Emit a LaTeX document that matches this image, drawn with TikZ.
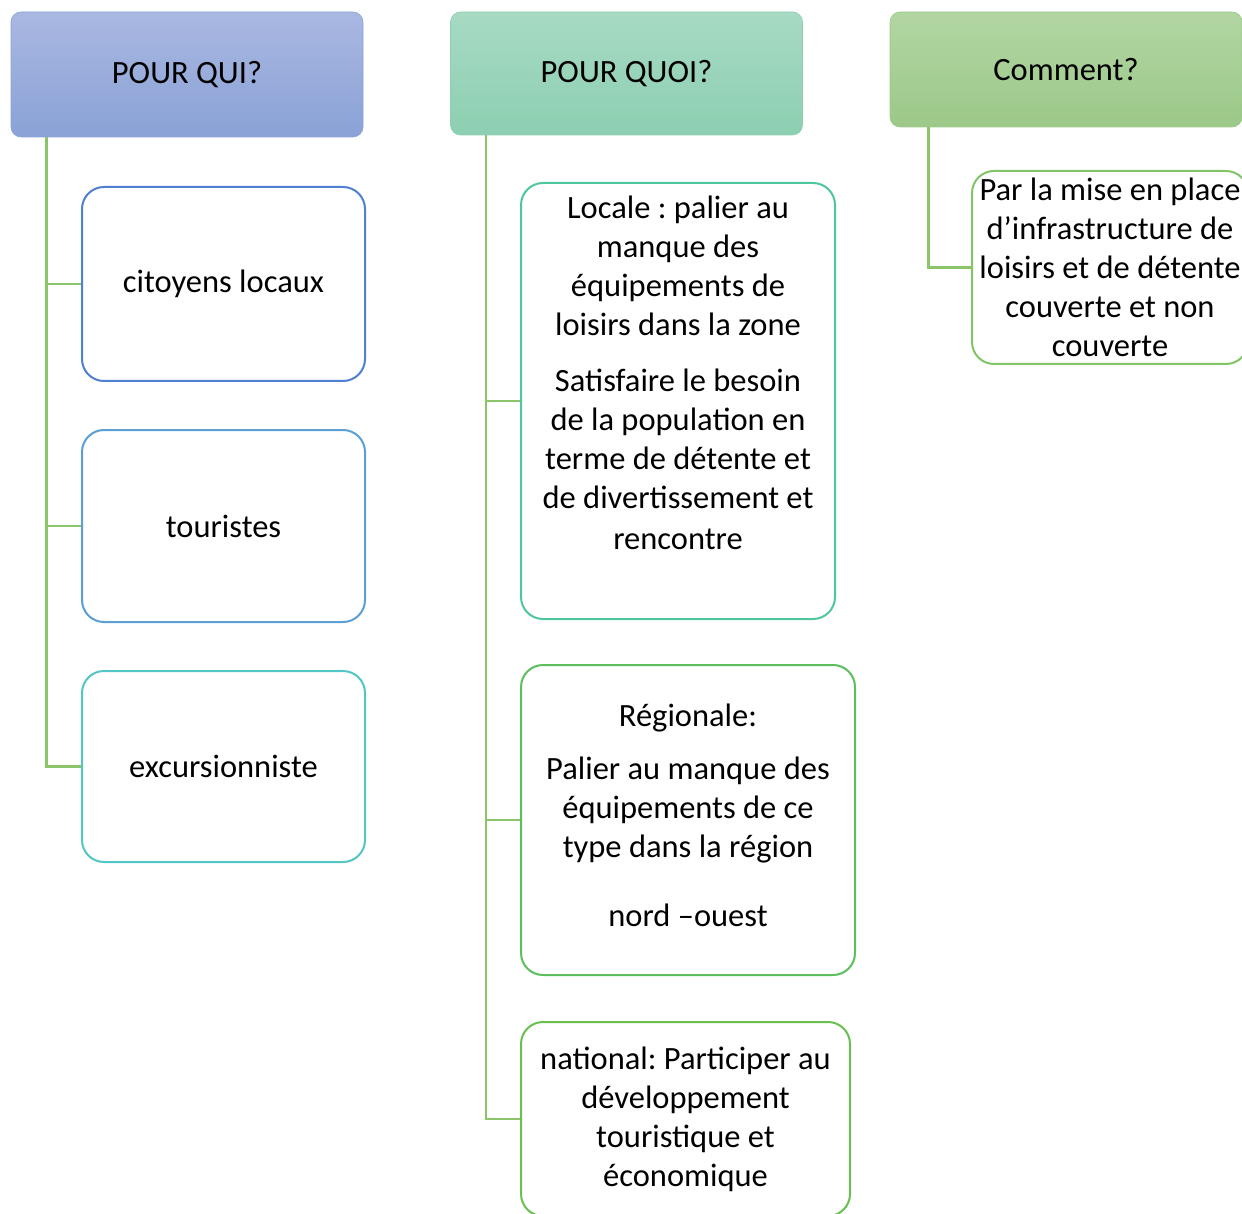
\documentclass[tikz,border=0pt]{standalone}
\usepackage{fontspec}
\setmainfont{Carlito}
\usepackage{xcolor}
\usetikzlibrary{positioning}

\definecolor{quiTop}{HTML}{A9B8E1}
\definecolor{quiBot}{HTML}{8AA2D7}
\definecolor{quoiTop}{HTML}{A7DAC3}
\definecolor{quoiBot}{HTML}{8CCFB1}
\definecolor{commTop}{HTML}{B2D6A2}
\definecolor{commBot}{HTML}{9CC889}
\definecolor{citBorder}{HTML}{4F7FD0}
\definecolor{touBorder}{HTML}{5B9FD5}
\definecolor{excBorder}{HTML}{52C5C5}
\definecolor{locBorder}{HTML}{4EC79C}
\definecolor{regBorder}{HTML}{5DBE5D}
\definecolor{natBorder}{HTML}{69BF4F}
\definecolor{misBorder}{HTML}{80C566}
\definecolor{linkGreen}{HTML}{8BC56A}

\frenchspacing

\begin{document}
\begin{tikzpicture}[
    x=1pt, y=-1pt,
    font=\fontsize{32.5}{39}\selectfont,
    header/.style={rounded corners=10pt, minimum width=352pt, inner sep=4pt, top color=#1Top, bottom color=#1Bot, draw=#1Bot, line width=0.6pt},
    leaf/.style={draw=#1, line width=2pt, rounded corners=22pt, fill=white, align=center, inner sep=4pt},
    link/.style={draw=linkGreen, line width=2.5pt}
]
\useasboundingbox (0,0) rectangle (1242,1214);
\clip (0,0) rectangle (1242,1214);

% Headers
\node[header=qui, minimum height=125pt] (qui) at (187,74.5) {POUR QUI?};
\node[header=quoi, minimum height=123pt] (quoi) at (626.5,73.5) {POUR QUOI?};
\node[header=comm, minimum height=115pt] (comment) at (1066,69.5) {Comment?};

% POUR QUI? column
\node[leaf=citBorder, minimum width=283pt, minimum height=194pt] (citoyens) at (223.5,284) {citoyens locaux};
\node[leaf=touBorder, minimum width=283pt, minimum height=192pt] (touristes) at (223.5,526) {touristes};
\node[leaf=excBorder, minimum width=283pt, minimum height=191pt] (excursion) at (223.5,766.5) {excursionniste};

% POUR QUOI? column
\node[leaf=locBorder, minimum width=314pt, minimum height=436pt] (locale) at (678,401)
    {Locale : palier au\\ manque des\\ équipements de\\ loisirs dans la zone\\[17pt]
     Satisfaire le besoin\\ de la population en\\ terme de détente et\\ de divertissement et\\[2pt]
     rencontre\\[18pt]\mbox{}};
\node[leaf=regBorder, minimum width=334pt, minimum height=310pt] (regionale) at (688,820)
    {Régionale:\\[14pt] Palier au manque des\\ équipements de ce\\ type dans la région\\[30pt] nord –ouest\\[-29pt]\mbox{}};
\node[leaf=natBorder, minimum width=329pt, minimum height=194pt] (national) at (685.5,1119)
    {national: Participer au\\ développement\\ touristique et\\ économique};

% Comment? column
\node[leaf=misBorder, minimum width=276pt, minimum height=193pt] (miseplace) at (1110,267.5)
    {Par la mise en place\\ d’infrastructure de\\ loisirs et de détente\\ couverte et non\\ couverte};

% Connectors
\foreach \child in {citoyens, touristes, excursion} {
    \draw[link] ([xshift=36pt]qui.south west) |- (\child.west);
}
\foreach \child in {locale, regionale, national} {
    \draw[link] ([xshift=36pt]quoi.south west) |- (\child.west);
}
\draw[link] ([xshift=39pt]comment.south west) |- (miseplace.west);

\end{tikzpicture}
\end{document}
